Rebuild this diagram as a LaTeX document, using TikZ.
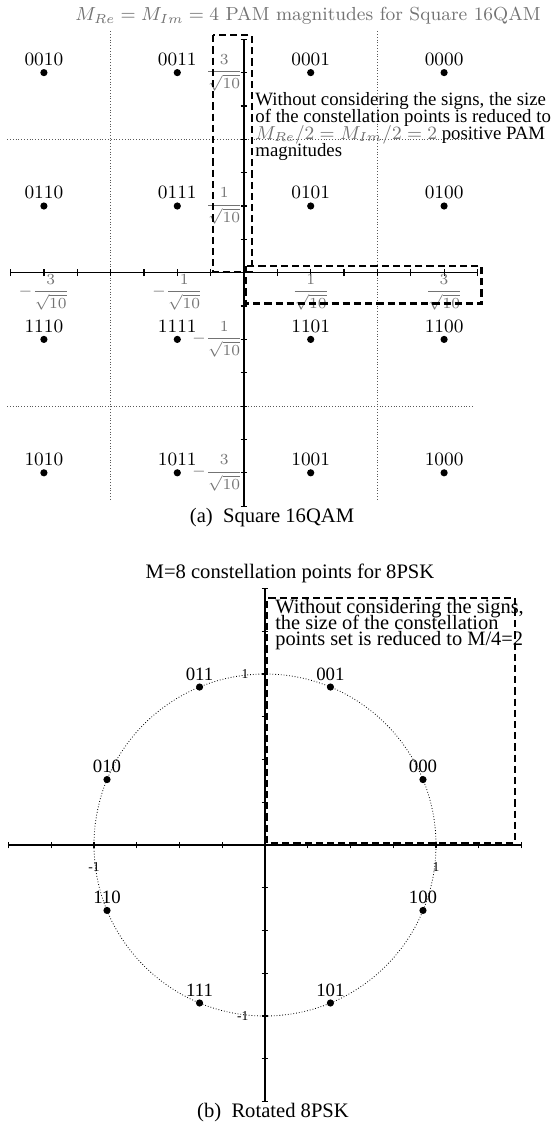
\documentclass[tikz,border=0pt]{standalone}
\usepackage{fix-cm}
\usepackage{fontspec}
\newfontfamily\tms{Liberation Serif}
\usetikzlibrary{positioning}
\definecolor{lblgray}{gray}{0.45}
\definecolor{gridgray}{gray}{0.35}
\newcommand{\tightlines}{\setlength{\lineskiplimit}{-20pt}}
\newcommand{\invsq}[1]{\displaystyle\frac{#1}{\sqrt{10}}}

\tikzset{
  qdot/.style={circle, fill=black, inner sep=0pt, minimum size=3.6pt},
  qlbl/.style={inner sep=0.6pt, font=\fontsize{9.4}{9.4}\selectfont},
  plbl/.style={inner sep=0.6pt, font=\tms\fontsize{9.4}{9.4}\selectfont},
  ticklbl/.style={inner sep=0.5pt, font=\fontsize{7.7}{8}\selectfont, text=lblgray},
  smalllbl/.style={inner sep=0pt, font=\tms\fontsize{6.8}{6.8}\selectfont},
  gridline/.style={densely dotted, line width=0.4pt, gridgray},
  circleline/.style={densely dotted, line width=0.4pt},
  selbox/.style={line width=1.15pt, dash pattern=on 3.6pt off 2pt},
  axisline/.style={line width=0.6pt},
}

\begin{document}
\begin{tikzpicture}[x=0.5pt, y=-0.5pt]
\useasboundingbox (0,0) rectangle (551,1126);

% Title (a)
\node[font=\fontsize{9.45}{11}\selectfont, text=lblgray] (titleA) at (308,16) {$M_{Re}=M_{Im}=4$ PAM magnitudes for Square 16QAM};

% ---------------- Square 16QAM ----------------
\begin{scope}[shift={(244,272.7)}, x=33.35pt, y=33.35pt]
% Grid
\foreach \g in {-2,2} {
  \draw[gridline] (\g,3.62) -- (\g,-3.42);
  \draw[gridline] (-3.55,\g) -- (3.42,\g);
}

% Axes
\coordinate (aW) at (-3.5,0);
\coordinate (aE) at (3.5,0);
\coordinate (aS) at (0,-3.5);
\coordinate (aN) at (0,3.5);
\draw[axisline] (aW) -- (aE);
\draw[axisline] (aS) -- (aN);
\foreach \t in {-3.5,-3,...,3.5} {
  \draw[axisline] (\t,-0.052) -- (\t,0.052);
  \draw[axisline] (-0.052,\t) -- (0.052,\t);
}

% Tick labels
\node[ticklbl, anchor=north] (xm3) at (-3,0) {$-\invsq{3}$};
\node[ticklbl, anchor=north] (xm1) at (-1,0) {$-\invsq{1}$};
\node[ticklbl, anchor=north] (xp1) at (1,0) {$\invsq{1}$};
\node[ticklbl, anchor=north] (xp3) at (3,0) {$\invsq{3}$};
\node[ticklbl, anchor=east] (yp3) at (0,3) {$\invsq{3}$};
\node[ticklbl, anchor=east] (yp1) at (0,1) {$\invsq{1}$};
\node[ticklbl, anchor=east] (ym1) at (0,-1) {$-\invsq{1}$};
\node[ticklbl, anchor=east] (ym3) at (0,-3) {$-\invsq{3}$};

% Constellation points
\foreach \b/\x/\y in {0010/-3/3, 0011/-1/3, 0001/1/3, 0000/3/3,
                      0110/-3/1, 0111/-1/1, 0101/1/1, 0100/3/1,
                      1110/-3/-1, 1111/-1/-1, 1101/1/-1, 1100/3/-1,
                      1010/-3/-3, 1011/-1/-3, 1001/1/-3, 1000/3/-3} {
  \node[qdot] (q\b) at (\x,\y) {};
  \node[qlbl, above=0.5pt of q\b] (l\b) {\b};
}

% Positive magnitudes
\draw[selbox] (-0.47,3.56) rectangle (0.115,0.015);
\draw[selbox] (0.025,0.1) rectangle (3.56,-0.46);
\node[anchor=north west, align=left, inner sep=0pt, font={\tms\fontsize{9.4}{8.6}\selectfont\tightlines}] (noteA) at (0.165,2.715)
  {Without considering the signs, the size\\of the constellation points is reduced to\\{\color{lblgray}$M_{Re}/2=M_{Im}/2=2$} positive PAM\\magnitudes};
\end{scope}

% Caption (a)
\node[font=\tms\fontsize{10.3}{12}\selectfont] (capA) at (272,518) {(a)\enspace Square 16QAM};

% Title (b)
\node[font=\tms\fontsize{10.3}{12}\selectfont] (titleB) at (290,573) {M=8 constellation points for 8PSK};

% ---------------- Rotated 8PSK ----------------
\begin{scope}[shift={(265,845)}, x=85.5pt, y=85.5pt]
\draw[circleline] (0,0) circle (1);

% Axes
\coordinate (bW) at (-1.5,0);
\coordinate (bE) at (1.5,0);
\coordinate (bS) at (0,-1.5);
\coordinate (bN) at (0,1.5);
\draw[axisline] (bW) -- (bE);
\draw[axisline] (bS) -- (bN);
\foreach \t in {-1.5,-1.25,...,1.5} {
  \draw[axisline] (\t,-0.02) -- (\t,0.02);
  \draw[axisline] (-0.02,\t) -- (0.02,\t);
}
\node[smalllbl] (bxp1) at (1,-0.127) {1};
\node[smalllbl] (bxm1) at (-1,-0.127) {-1};
\node[smalllbl, anchor=east] (byp1) at (-0.094,1) {1};
\node[smalllbl, anchor=east] (bym1) at (-0.094,-1) {-1};

% Constellation points
\foreach \b/\a in {000/22.5, 001/67.5, 011/112.5, 010/157.5,
                   110/202.5, 111/247.5, 101/292.5, 100/337.5} {
  \node[qdot] (p\b) at (\a:1) {};
  \node[plbl, above=0.5pt of p\b] (m\b) {\b};
}

% Positive quadrant
\draw[selbox] (0.013,0.012) rectangle (1.46,1.446);
\node[anchor=north west, align=left, inner sep=0pt, font={\tms\fontsize{10.2}{8.1}\selectfont\tightlines}] (noteB) at (0.058,1.44)
  {Without considering the signs,\\the size of the constellation\\points set is reduced to M/4=2};
\end{scope}

% Caption (b)
\node[font=\tms\fontsize{10.3}{12}\selectfont] (capB) at (273,1113) {(b)\enspace Rotated 8PSK};

\end{tikzpicture}
\end{document}
